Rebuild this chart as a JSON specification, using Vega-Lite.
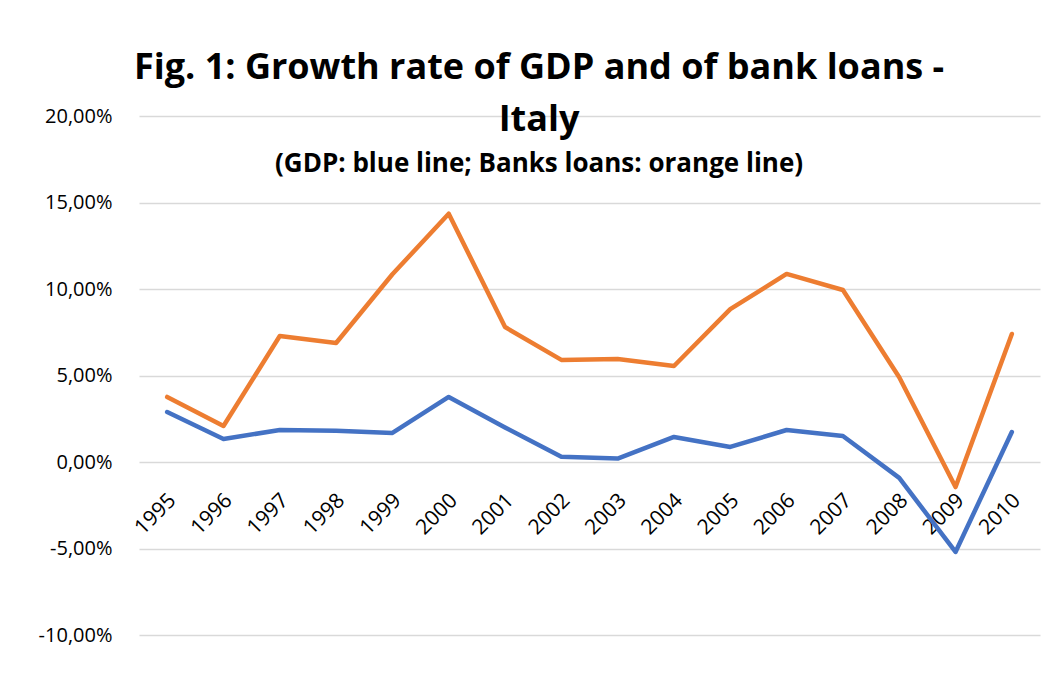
{
  "$schema": "https://vega.github.io/schema/vega-lite/v6.json",
  "autosize": {"type": "none"},
  "width": 901,
  "height": 519,
  "padding": {"left": 139, "top": 116, "right": 5, "bottom": 44},
  "background": "white",
  "config": {"view": {"stroke": null}, "font": "Open Sans"},
  "title": {
    "text": ["Fig. 1: Growth rate of GDP and of bank loans -", "Italy"],
    "subtitle": "(GDP: blue line; Banks loans: orange line)",
    "font": "Open Sans",
    "fontSize": 36,
    "fontWeight": "bold",
    "color": "black",
    "lineHeight": 52,
    "subtitleFont": "Open Sans",
    "subtitleFontSize": 26,
    "subtitleFontWeight": "bold",
    "subtitleColor": "black",
    "subtitlePadding": 12,
    "anchor": "middle",
    "frame": "bounds",
    "offset": -72
  },
  "data": {
    "values": [
      {"year": "1995", "series": "GDP", "value": 0.0289},
      {"year": "1996", "series": "GDP", "value": 0.0133},
      {"year": "1997", "series": "GDP", "value": 0.0185},
      {"year": "1998", "series": "GDP", "value": 0.0181},
      {"year": "1999", "series": "GDP", "value": 0.0168},
      {"year": "2000", "series": "GDP", "value": 0.0376},
      {"year": "2001", "series": "GDP", "value": 0.0200},
      {"year": "2002", "series": "GDP", "value": 0.0030},
      {"year": "2003", "series": "GDP", "value": 0.0020},
      {"year": "2004", "series": "GDP", "value": 0.0145},
      {"year": "2005", "series": "GDP", "value": 0.0087},
      {"year": "2006", "series": "GDP", "value": 0.0185},
      {"year": "2007", "series": "GDP", "value": 0.0150},
      {"year": "2008", "series": "GDP", "value": -0.0092},
      {"year": "2009", "series": "GDP", "value": -0.0520},
      {"year": "2010", "series": "GDP", "value": 0.0173},
      {"year": "1995", "series": "Bank loans", "value": 0.0376},
      {"year": "1996", "series": "Bank loans", "value": 0.0208},
      {"year": "1997", "series": "Bank loans", "value": 0.0728},
      {"year": "1998", "series": "Bank loans", "value": 0.0688},
      {"year": "1999", "series": "Bank loans", "value": 0.1085},
      {"year": "2000", "series": "Bank loans", "value": 0.1435},
      {"year": "2001", "series": "Bank loans", "value": 0.0780},
      {"year": "2002", "series": "Bank loans", "value": 0.0590},
      {"year": "2003", "series": "Bank loans", "value": 0.0595},
      {"year": "2004", "series": "Bank loans", "value": 0.0555},
      {"year": "2005", "series": "Bank loans", "value": 0.0884},
      {"year": "2006", "series": "Bank loans", "value": 0.1087},
      {"year": "2007", "series": "Bank loans", "value": 0.0994},
      {"year": "2008", "series": "Bank loans", "value": 0.0490},
      {"year": "2009", "series": "Bank loans", "value": -0.0145},
      {"year": "2010", "series": "Bank loans", "value": 0.0740}
    ]
  },
  "mark": {"type": "line", "strokeWidth": 4.5, "strokeCap": "round", "strokeJoin": "round"},
  "encoding": {
    "x": {
      "field": "year",
      "type": "ordinal",
      "scale": {"type": "point", "padding": 0.5},
      "axis": {
        "title": null,
        "domain": false,
        "ticks": false,
        "grid": false,
        "offset": -173,
        "labelAngle": -45,
        "labelAlign": "right",
        "labelBaseline": "middle",
        "labelPadding": 35,
        "labelOffset": 5,
        "labelFont": "Open Sans",
        "labelFontSize": 21,
        "labelColor": "black"
      }
    },
    "y": {
      "field": "value",
      "type": "quantitative",
      "scale": {"domain": [-0.1, 0.2], "nice": false, "zero": false},
      "axis": {
        "title": null,
        "domain": false,
        "ticks": false,
        "values": [-0.1, -0.05, 0, 0.05, 0.1, 0.15, 0.2],
        "labelExpr": "replace(replace(format(datum.value, '.2%'), '.', ','), '\u2212', '-')",
        "labelFont": "Open Sans",
        "labelFontSize": 20,
        "labelColor": "black",
        "labelPadding": 27,
        "gridColor": "#d9d9d9",
        "gridWidth": 1.5
      }
    },
    "color": {
      "field": "series",
      "type": "nominal",
      "scale": {"domain": ["GDP", "Bank loans"], "range": ["#4472C4", "#ED7D31"]},
      "legend": null
    },
    "order": {"field": "year"}
  }
}
